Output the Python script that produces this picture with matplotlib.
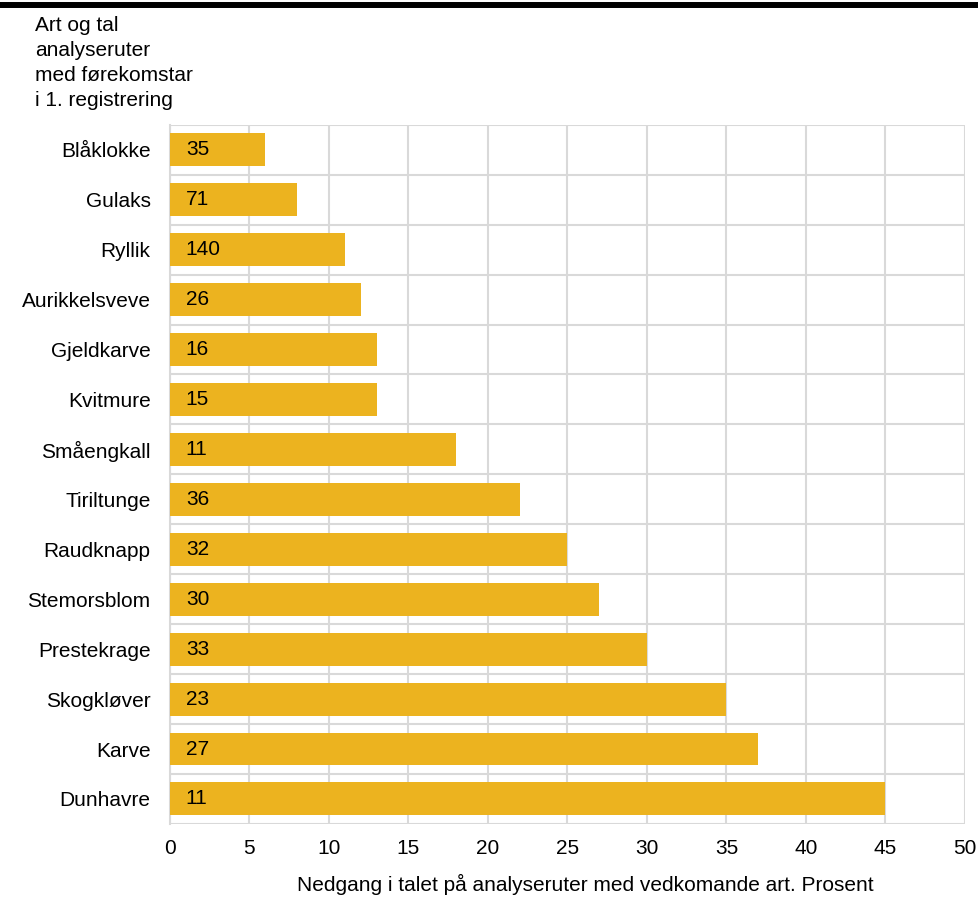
import numpy as np
import matplotlib.pyplot as plt
from matplotlib.lines import Line2D

plt.rcParams['font.family'] = ['Liberation Sans', 'DejaVu Sans']

arter = ['Blåklokke', 'Gulaks', 'Ryllik', 'Aurikkelsveve', 'Gjeldkarve', 'Kvitmure',
         'Småengkall', 'Tiriltunge', 'Raudknapp', 'Stemorsblom', 'Prestekrage',
         'Skogkløver', 'Karve', 'Dunhavre']
nedgang = [6, 8, 11, 12, 13, 13, 18, 22, 25, 27, 30, 35, 37, 45]
ruter = [35, 71, 140, 26, 16, 15, 11, 36, 32, 30, 33, 23, 27, 11]

fs = 15

fig = plt.figure(figsize=(9.79, 8.98), dpi=100)
ax = fig.add_axes([0.1736, 0.0825, 0.812, 0.7785])

y = np.arange(len(arter))
ax.barh(y, nedgang, height=0.66, color='#ECB31F', zorder=3)
for yi, n in zip(y, ruter):
	ax.text(1.0, yi, str(n), ha='left', va='center', fontsize=fs, color='black', zorder=4)

ax.set_xlim(0, 50)
ax.set_ylim(len(arter) - 0.5, -0.5)
ax.set_xticks(np.arange(0, 51, 5))
ax.set_yticks(y)
ax.set_yticklabels(arter, fontsize=fs)
ax.set_yticks(np.arange(-0.5, len(arter), 1), minor=True)
ax.tick_params(axis='x', labelsize=fs, length=0, pad=11)
ax.tick_params(axis='y', which='both', length=0, pad=14)
ax.grid(axis='x', color='#d9d9d9', linewidth=1.5, zorder=0)
ax.grid(axis='y', which='minor', color='#d9d9d9', linewidth=1.5, zorder=0)
for s in ax.spines.values():
	s.set_visible(False)
ax.spines['left'].set_visible(True)
ax.spines['left'].set_color('#d9d9d9')
ax.spines['left'].set_linewidth(1.5)

ax.set_xlabel('Nedgang i talet på analyseruter med vedkomande art. Prosent', fontsize=fs)
ax.xaxis.set_label_coords(0.522, -0.072)

fig.text(35/979, 1 - 16/898, 'Art og tal\nanalyseruter\nmed førekomstar\ni 1. registrering',
	ha='left', va='top', fontsize=fs, linespacing=1.4)

# black rule at the top
fig.add_artist(Line2D([0, 1], [1 - 4.5/898, 1 - 4.5/898], color='black', linewidth=4.3, transform=fig.transFigure))

fig.savefig('out.png', dpi=100)
